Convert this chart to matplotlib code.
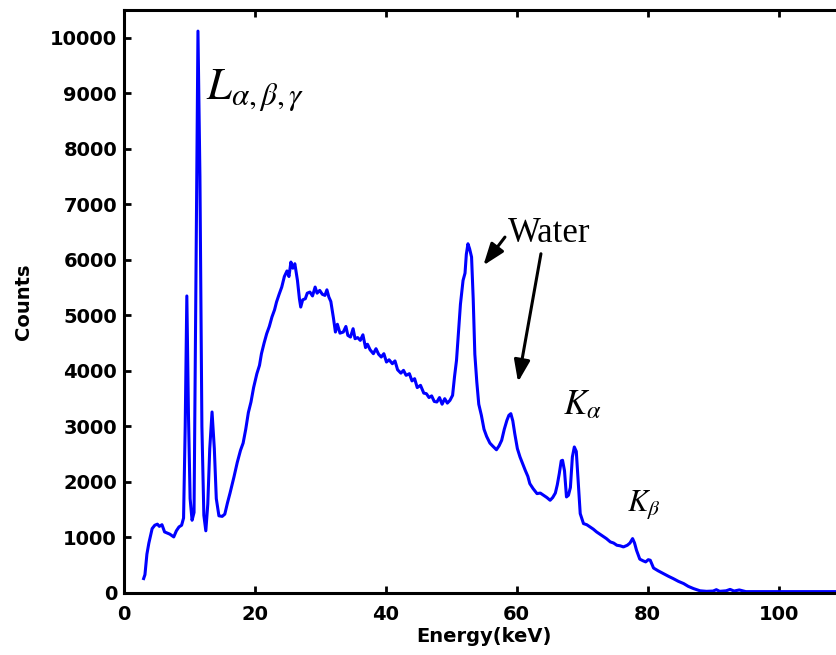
import numpy as np
import matplotlib
matplotlib.use("Agg")
import matplotlib.pyplot as plt

# spectrum — energy in keV, raw counts
ENERGY = [
    3.0, 3.2, 3.5, 3.8, 4.3, 4.7, 5.1, 5.4, 5.8, 6.2, 6.6, 7.0, 7.6, 8.0, 8.4, 8.8,
    9.1, 9.35, 9.6, 9.85, 10.1, 10.4, 10.7, 10.95, 11.3, 11.6, 11.9, 12.2, 12.5,
    12.8, 13.1, 13.45, 13.8, 14.1, 14.5, 15.0, 15.4, 15.8, 16.2, 16.8, 17.3, 17.8,
    18.2, 18.6, 19.0, 19.4, 19.8, 20.3, 20.7, 21.0, 21.4, 21.8, 22.2, 22.6, 23.0,
    23.3, 23.7, 24.1, 24.5, 24.9, 25.2, 25.5, 25.8, 26.1, 26.5, 26.8, 27.0, 27.3,
    27.7, 28.0, 28.4, 28.8, 29.2, 29.5, 29.9, 30.3, 30.7, 31.0, 31.3, 31.6, 32.0,
    32.3, 32.6, 33.0, 33.5, 33.9, 34.2, 34.6, 35.0, 35.3, 35.7, 36.1, 36.5, 36.9,
    37.2, 37.6, 38.1, 38.5, 38.9, 39.3, 39.7, 40.1, 40.5, 41.0, 41.4, 41.8, 42.3,
    42.7, 43.1, 43.6, 44.0, 44.4, 44.8, 45.3, 45.8, 46.2, 46.6, 47.0, 47.4, 47.8,
    48.2, 48.6, 49.0, 49.4, 49.8, 50.2, 50.5, 50.8, 51.1, 51.4, 51.8, 52.1, 52.3,
    52.55, 52.8, 53.1, 53.35, 53.6, 53.9, 54.2, 54.6, 55.0, 55.4, 55.9, 56.3, 56.9,
    57.3, 57.7, 58.1, 58.5, 58.8, 59.1, 59.4, 59.7, 60.1, 60.5, 60.9, 61.3, 61.7,
    62.0, 62.5, 63.1, 63.6, 64.1, 64.6, 65.1, 65.5, 65.9, 66.2, 66.5, 66.8, 67.0,
    67.3, 67.6, 67.9, 68.2, 68.5, 68.8, 69.1, 69.4, 69.7, 70.2, 70.7, 71.2, 71.7,
    72.2, 72.7, 73.2, 73.7, 74.3, 74.8, 75.3, 75.8, 76.3, 76.9, 77.3, 77.7, 78.0,
    78.3, 78.8, 79.3, 79.7, 80.1, 80.4, 80.9, 81.6, 82.4, 83.2, 83.9, 84.7, 85.5,
    86.2, 87.0, 88.0, 89.0, 90.0, 90.5, 91.0, 92.0, 92.6, 93.2, 94.0, 95.0, 100.0,
    110.0,
]
COUNTS = [
    260, 330, 700, 900, 1160, 1220, 1240, 1200, 1230, 1100, 1080, 1060, 1010, 1120,
    1190, 1220, 1350, 3000, 5350, 3200, 1700, 1310, 1450, 5000, 10120, 7500, 3000,
    1400, 1120, 1600, 2600, 3260, 2600, 1700, 1390, 1380, 1420, 1620, 1800, 2090,
    2350, 2570, 2700, 2950, 3250, 3440, 3700, 3950, 4100, 4310, 4500, 4670, 4800,
    4970, 5100, 5240, 5380, 5510, 5700, 5800, 5700, 5960, 5850, 5930, 5630, 5300,
    5150, 5280, 5300, 5400, 5420, 5350, 5510, 5400, 5450, 5380, 5360, 5460, 5330,
    5250, 4950, 4700, 4840, 4680, 4700, 4800, 4640, 4610, 4760, 4580, 4600, 4550,
    4650, 4420, 4480, 4380, 4310, 4400, 4300, 4250, 4310, 4160, 4200, 4130, 4180,
    4020, 3960, 4010, 3920, 3950, 3820, 3860, 3700, 3740, 3600, 3590, 3520, 3550,
    3450, 3440, 3520, 3400, 3500, 3420, 3470, 3560, 3900, 4190, 4700, 5200, 5630,
    5760, 6100, 6290, 6200, 6050, 5300, 4300, 3800, 3400, 3200, 2950, 2820, 2700,
    2650, 2580, 2650, 2750, 2950, 3110, 3200, 3230, 3100, 2870, 2600, 2450, 2330,
    2210, 2100, 1970, 1880, 1790, 1800, 1760, 1720, 1670, 1720, 1800, 1950, 2150,
    2380, 2390, 2200, 1730, 1760, 1900, 2450, 2630, 2550, 2000, 1430, 1250, 1230,
    1190, 1150, 1100, 1060, 1020, 980, 920, 900, 860, 850, 830, 860, 900, 980, 900,
    770, 610, 580, 560, 600, 590, 450, 400, 350, 300, 260, 210, 170, 120, 80, 40,
    30, 35, 60, 30, 40, 65, 35, 55, 25, 25, 25,
]

X_TICKS = [0, 20, 40, 60, 80, 100]
Y_TICKS = list(range(0, 10001, 1000))

# peak labels: (text, energy, counts, fontsize)
PEAK_LABELS = [
    (r"$L_{\alpha,\beta,\gamma}$", 12.6, 8900, 32),
    (r"$K_{\alpha}$", 67.1, 3220, 25),
    (r"$K_{\beta}$", 76.8, 1480, 22),
]
WATER_TEXT = (58.6, 6330)
# arrows: (tail, tip) in data coords
WATER_ARROWS = [
    ((58.2, 6410), (54.9, 5900)),
    ((63.7, 6110), (60.2, 3800)),
]


def plot_spectrum():
    plt.rcParams["mathtext.fontset"] = "stix"
    fig = plt.figure(figsize=(8.36, 6.55), dpi=100)
    # axes runs a bit past the right edge, like the cropped original
    ax = fig.add_axes([124 / 836, 62 / 655, 720 / 836, 583 / 655])

    ax.plot(ENERGY, COUNTS, color="#0000FF", linewidth=2.2)

    ax.set_xlim(0, 110)
    ax.set_ylim(0, 10500)
    ax.set_xticks(X_TICKS)
    ax.set_yticks(Y_TICKS)
    ax.tick_params(direction="in", length=5, width=2, top=True, right=True,
                   labelsize=14)
    ax.tick_params(axis="x", pad=9)
    ax.tick_params(axis="y", pad=5)
    for lbl in ax.get_xticklabels() + ax.get_yticklabels():
        lbl.set_fontweight("bold")
    for sp in ax.spines.values():
        sp.set_linewidth(2.2)

    ax.set_xlabel("Energy(keV)", fontsize=14, fontweight="bold", labelpad=2)
    ax.set_ylabel("Counts", fontsize=14, fontweight="bold", labelpad=12)

    for txt, x, y, fs in PEAK_LABELS:
        ax.text(x, y, txt, fontsize=fs, va="baseline", ha="left")

    ax.text(WATER_TEXT[0], WATER_TEXT[1], "Water", fontsize=25,
            family="Liberation Serif", va="baseline", ha="left")
    for tail, tip in WATER_ARROWS:
        ax.annotate("", xy=tip, xytext=tail,
                    arrowprops=dict(arrowstyle="-|>,head_length=1.1,head_width=0.4",
                                    lw=2.2, color="black", mutation_scale=12,
                                    shrinkA=0, shrinkB=0))

    fig.savefig("out.png", dpi=100, facecolor="white")
    plt.close(fig)


if __name__ == "__main__":
    plot_spectrum()
